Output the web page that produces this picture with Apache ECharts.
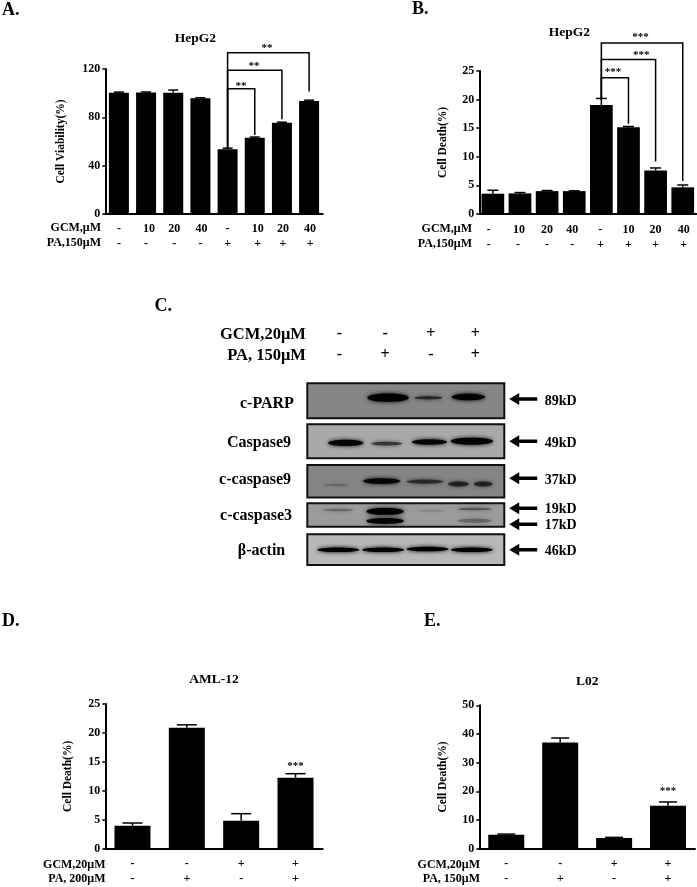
<!DOCTYPE html>
<html><head><meta charset="utf-8">
<style>html,body{margin:0;padding:0;background:#fff}#c{width:697px;height:887px}</style>
<script src="https://cdn.jsdelivr.net/npm/echarts@6/dist/echarts.min.js"></script>
</head><body><div id="c"></div>
<script>
// ---- data ----
const gcmDose = ['-','10','20','40','-','10','20','40'];
const paDose  = ['-','-','-','-','+','+','+','+'];
const gcmFour = ['-','-','+','+'];
const paFour  = ['-','+','-','+'];
const viabilityA = [100.4,100.6,100.4,95.7,53.6,63.2,75.6,93.5];
const viabilityErrA = [100.9,101,102.6,96.2,54.5,63.7,76,94.2];
const deathB = [3.55,3.6,4.0,4.0,19.05,15.15,7.6,4.66];
const deathErrB = [4.15,3.75,4.1,4.05,20.2,15.3,8.05,5.07];
const deathD = [3.97,20.9,4.84,12.27];
const deathErrD = [4.44,21.4,6.05,12.96];
const deathE = [4.9,37,3.7,15];
const deathErrE = [5.1,38.6,3.95,16.3];
const bracketsA = [
  [[4,54.4],[4,103.7],[5,103.7],[5,66]],
  [[4,54.4],[4,119],[6,119],[6,79]],
  [[4,54.4],[4,133.5],[7,133.5],[7,102]]
];
const bracketsB = [
  [[4,20.2],[4,23.8],[5,23.8],[5,15.9]],
  [[4,20.2],[4,27],[6,27],[6,9.3]],
  [[4,20.2],[4,29.9],[7,29.9],[7,5.9]]
];
const starsA = [[4.49,106,'**'],[4.97,122,'**'],[5.45,137,'**']];
const starsB = [[4.43,24.8,'***'],[5.47,27.7,'***'],[5.44,31,'***']];
const starsD = [[3,14.2,'***']];
const starsE = [[3,20,'***']];
// western blot: [top, bottom, grey]
const blotPanels = [[0,19.3,'#868686'],[22.6,41.3,'#a9a9a9'],[45,62.8,'#858585'],[66,78.9,'#9c9c9c'],[83.1,100,'#b8b8b8']];
// bands: [lane, row, width, thickness, opacity]
const blotBands = [
  [1.64,7.9,.84,4.6,1],[2.46,8,.58,1.8,.6],[3.27,7.5,.68,3.6,1],
  [.78,32.8,.72,3.4,.9],[1.61,33.2,.64,2.2,.55],[2.48,32.3,.72,3,.9],[3.34,31.9,.86,3.8,1],
  [.6,56,.56,1,.22],[1.51,53.8,.76,3.2,.9],[2.39,54.1,.76,2.4,.55],[3.07,55.4,.42,2.8,.6],[3.57,55.4,.38,2.8,.6],
  [.63,69.7,.62,1.4,.25],[1.58,70.5,.76,3.8,.95],[1.58,75.8,.76,3.2,.9],[2.52,70.3,.54,.8,.15],[3.4,69.2,.7,1.4,.35],[3.4,75.6,.7,2.2,.25],
  [.63,91.6,.86,2.6,1],[1.54,91.6,.86,2.6,1],[2.44,91.2,.86,2.6,1],[3.34,91.6,.86,2.6,1]
];
const arrowRows = [8.6,31.9,52.3,68.8,77.6,91.6];
const weightLabels = [['89kD',9.8],['49kD',32.8],['37kD',53.4],['19kD',69.4],['17kD',78.2],['46kD',92.6]];
const proteinLabels = [['c-PARP',-.82,11.1],['Caspase9',-.98,32.9],['c-caspase9',-1.06,53.3],['c-caspase3',-1.04,72.9],['β-actin',-.93,92.3]];
const blotLanes = [.65,1.58,2.51,3.41];

// ---- helpers ----
const SERIF = '"Liberation Serif","Times New Roman",serif';
const bold = s => `bold ${s}px ${SERIF}`;
const richShift = {};
for (let n=-6;n<=6;n++) {
  richShift['s'+(n+6)] = {fontFamily:SERIF,fontWeight:'bold',fontSize:12,color:'#000',lineHeight:15,
    padding:n>=0?[0,0,0,2*n]:[0,-2*n,0,0]};
}
const tag = (t,n) => `{s${n+6}|${t}}`;

const series=[], grid=[], xAxis=[], yAxis=[];
function panel(cfg){
  const g=grid.length;
  grid.push({left:cfg.rect[0],top:cfg.rect[1],width:cfg.rect[2],height:cfg.rect[3],containLabel:false});
  const n=cfg.values.length;
  xAxis.push({type:'category',gridIndex:g,data:cfg.rowA.map((a,i)=>i),
    axisLine:{lineStyle:{color:'#000',width:2}},axisTick:{show:false},
    axisLabel:{interval:0,margin:cfg.margin,rich:richShift,fontFamily:SERIF,
      formatter:(v,i)=>tag(cfg.rowA[i],(cfg.shiftA||[])[i]||0)+'\n'+tag(cfg.rowB[i],(cfg.shiftB||[])[i]||0)}});
  xAxis.push({type:'value',gridIndex:g,show:false,min:-.5,max:n-.5,axisLine:{onZero:false}});
  yAxis.push({type:'value',gridIndex:g,min:0,max:cfg.max,interval:cfg.step,splitLine:{show:false},
    name:cfg.yName,nameLocation:'middle',nameGap:cfg.gap,nameRotate:90,
    nameTextStyle:{fontFamily:SERIF,fontWeight:'bold',fontSize:11.5,color:'#000'},
    axisLine:{show:true,onZero:false,lineStyle:{color:'#000',width:2}},
    axisTick:{show:true,length:3,lineStyle:{color:'#000',width:1.5}},
    axisLabel:{margin:5,fontFamily:SERIF,fontWeight:'bold',fontSize:12,color:'#000'}});
  series.push({type:'bar',xAxisIndex:2*g,yAxisIndex:g,data:cfg.values,barWidth:cfg.barWidth,
    itemStyle:{color:'#000'},animation:false,silent:true});
  const cap=cfg.cap;
  series.push({type:'custom',xAxisIndex:2*g+1,yAxisIndex:g,animation:false,silent:true,clip:false,
    encode:{x:0,y:[1,2]},
    data:cfg.values.map((v,i)=>[i,v,cfg.errors[i]]),
    renderItem:(p,api)=>{
      const a=api.coord([api.value(0),api.value(1)]), b=api.coord([api.value(0),api.value(2)]);
      const st={stroke:'#000',lineWidth:1.5,fill:null};
      return {type:'group',children:[
        {type:'line',shape:{x1:a[0],y1:a[1],x2:b[0],y2:b[1]},style:st},
        {type:'line',shape:{x1:b[0]-cap/2,y1:b[1],x2:b[0]+cap/2,y2:b[1]},style:st}]};
    }});
  (cfg.brackets||[]).forEach(d=>series.push({type:'line',xAxisIndex:2*g+1,yAxisIndex:g,data:d,clip:false,
    showSymbol:false,symbol:'none',animation:false,silent:true,lineStyle:{color:'#000',width:1.5,cap:'square',join:'miter'}}));
  const st=cfg.stars;
  series.push({type:'custom',xAxisIndex:2*g+1,yAxisIndex:g,animation:false,silent:true,clip:false,
    encode:{x:0,y:1},data:st.map(s=>[s[0],s[1]]),
    renderItem:(p,api)=>{
      const c=api.coord([api.value(0),api.value(1)]);
      return {type:'text',style:{text:st[p.dataIndex][2],x:c[0],y:c[1],align:'center',verticalAlign:'middle',fill:'#000',font:bold(11)}};
    }});
}
panel({rect:[105.3,69,217.4,145],rowA:gcmDose,rowB:paDose,values:viabilityA,errors:viabilityErrA,max:120,step:40,
  yName:'Cell Viability(%)',gap:38,barWidth:20,cap:10,margin:7,brackets:bracketsA,stars:starsA,
  shiftA:[0,3,1,1,0,3,1,1],shiftB:[0,0,1,0,0,3,1,1]});
panel({rect:[479.3,71,217,143],rowA:gcmDose,rowB:paDose,values:deathB,errors:deathErrB,max:25,step:5,
  yName:'Cell Death(%)',gap:30,barWidth:22.7,cap:11,margin:8,brackets:bracketsB,stars:starsB,
  shiftA:[-4,-1,0,-2,-1,0,0,1],shiftB:[-4,-2,0,-2,-1,0,0,1]});
panel({rect:[105.3,704,217.4,144.7],rowA:gcmFour,rowB:paFour,values:deathD,errors:deathErrD,max:25,step:5,
  yName:'Cell Death(%)',gap:31.5,barWidth:36,cap:20,margin:8,stars:starsD});
panel({rect:[479.3,705.3,215.7,143.4],rowA:gcmFour,rowB:paFour,values:deathE,errors:deathErrE,max:50,step:10,
  yName:'Cell Death(%)',gap:30.5,barWidth:36,cap:18,margin:8,stars:starsE});

// ---- panel C: blot on its own grid (lanes / percent of gel height) ----
const gc=grid.length;
grid.push({left:307.3,top:383.3,width:197,height:181.7});
xAxis.push({type:'value',gridIndex:gc,show:false,min:0,max:4,axisLine:{onZero:false}});
yAxis.push({type:'value',gridIndex:gc,show:false,min:0,max:100,inverse:true,axisLine:{onZero:false}});
const bx=xAxis.length-1, by=yAxis.length-1;
series.push({type:'custom',xAxisIndex:bx,yAxisIndex:by,animation:false,silent:true,clip:false,z:2,
  data:blotPanels.map(p=>[p[0],p[1]]),encode:{y:[0,1]},
  renderItem:(p,api)=>{
    const a=api.coord([0,api.value(0)]), b=api.coord([4,api.value(1)]);
    return {type:'rect',shape:{x:a[0],y:a[1],width:b[0]-a[0],height:b[1]-a[1]},
      style:{fill:blotPanels[p.dataIndex][2],stroke:'#111',lineWidth:2}};
  }});
series.push({type:'custom',xAxisIndex:bx,yAxisIndex:by,animation:false,silent:true,clip:false,z:3,
  data:blotBands,encode:{x:0,y:1},
  renderItem:(p,api)=>{
    const c=api.coord([api.value(0),api.value(1)]), s=api.size([api.value(2),api.value(3)]);
    return {type:'ellipse',shape:{cx:c[0],cy:c[1],rx:s[0]/2,ry:s[1]/2},
      style:{fill:'#000',opacity:api.value(4),shadowColor:'#000',shadowBlur:4}};
  }});
series.push({type:'custom',xAxisIndex:bx,yAxisIndex:by,animation:false,silent:true,clip:false,z:4,
  data:arrowRows.map(r=>[4.1,r]),encode:{x:0,y:1},
  renderItem:(p,api)=>{
    const t=api.coord([api.value(0),api.value(1)]), x=t[0], y=t[1], L=28,H=10,S=4.5;
    return {type:'polygon',shape:{points:[[x,y],[x+H,y-6],[x+H,y-S/2+.5],[x+L,y-S/2+.5],[x+L,y+S/2-.5],[x+H,y+S/2-.5],[x+H,y+6]]},style:{fill:'#000'}};
  }});
const blotTexts=[
  ...weightLabels.map(w=>[4.82,w[1],w[0],'left',14]),
  ...proteinLabels.map(l=>[l[1],l[2],l[0],'center',16]),
  ...gcmFour.map((s,i)=>[blotLanes[i],-27,s,'center',16]),
  ...paFour.map((s,i)=>[blotLanes[i],-15.4,s,'center',16]),
  [-.03,-27,'GCM,20μM','right',16.5],
  [-.03,-15.4,'PA, 150μM','right',16.5]
];
series.push({type:'custom',xAxisIndex:bx,yAxisIndex:by,animation:false,silent:true,clip:false,z:5,
  data:blotTexts.map(t=>[t[0],t[1]]),encode:{x:0,y:1},
  renderItem:(p,api)=>{
    const t=blotTexts[p.dataIndex], c=api.coord([api.value(0),api.value(1)]);
    return {type:'text',style:{text:t[2],x:c[0],y:c[1],align:t[3],verticalAlign:'middle',fill:'#000',font:bold(t[4])}};
  }});

const txt=(text,x,y,size,align)=>({type:'text',x,y,silent:true,style:{text,align:align||'left',verticalAlign:'middle',fill:'#000',font:bold(size)}});
const option={
  animation:false,backgroundColor:'#fff',
  title:[
    ['HepG2',195.3,31.5],['HepG2',569.3,25.5],['AML-12',214,673],['L02',587.3,675]
  ].map(t=>({text:t[0],left:t[1],top:t[2],textAlign:'center',padding:0,textStyle:{fontFamily:SERIF,fontWeight:'bold',fontSize:13.5,color:'#000'}})),
  grid,xAxis,yAxis,series,
  graphic:[
    txt('A.',2,10,18),txt('B.',412,9.5,18),txt('C.',154.5,306.5,18),txt('D.',2,621.5,18),txt('E.',424,621.5,18),
    txt('GCM,μM',101,227.5,12,'right'),txt('PA,150μM',101,242.5,12,'right'),
    txt('GCM,μM',472,228.5,12,'right'),txt('PA,150μM',472,243.5,12,'right'),
    txt('GCM,20μM',105.5,864.5,12,'right'),txt('PA, 200μM',105.5,879,12,'right'),
    txt('GCM,20μM',480,864.5,12,'right'),txt('PA, 150μM',480,879,12,'right')
  ]
};
echarts.init(document.getElementById('c'),null,{renderer:'canvas'}).setOption(option);
</script></body></html>
